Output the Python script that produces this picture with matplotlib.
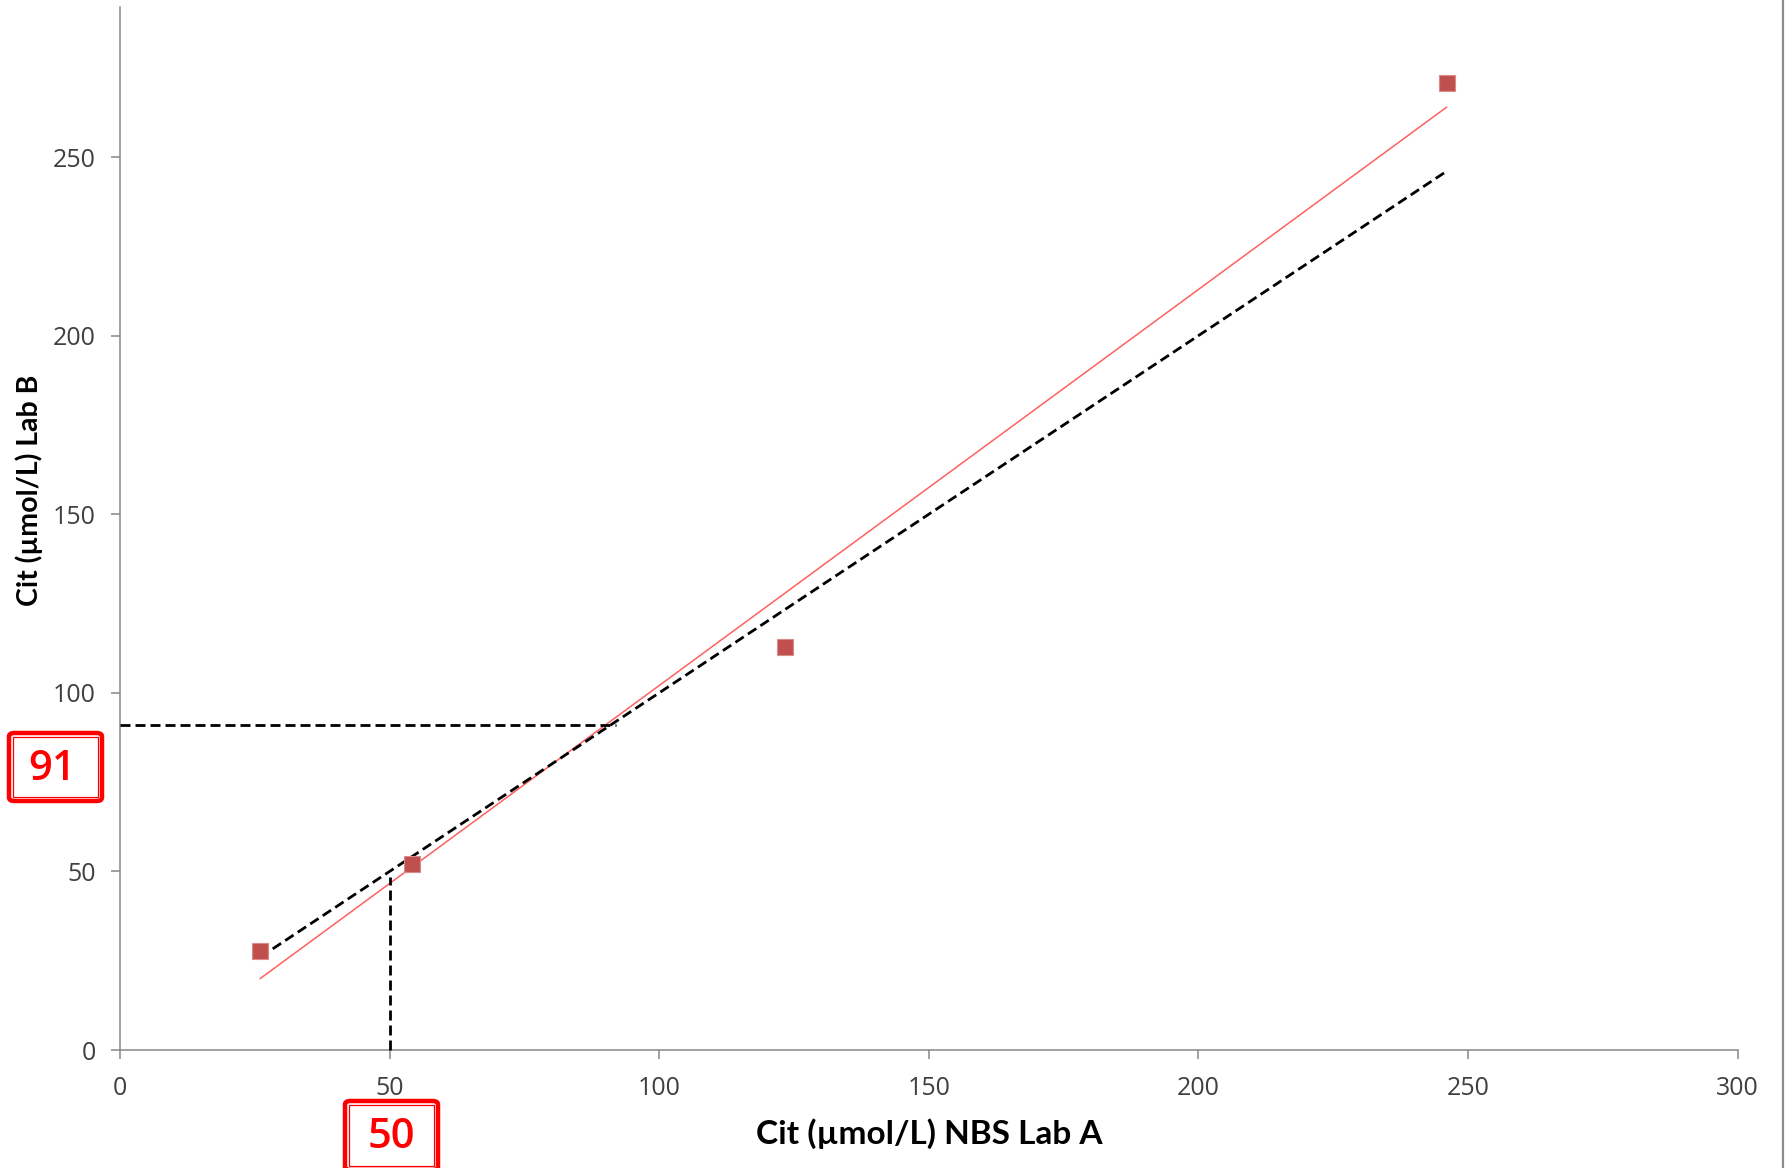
import numpy as np
import matplotlib.pyplot as plt
from matplotlib.lines import Line2D
from matplotlib.patches import FancyBboxPatch

# citrulline results for the same samples, measured in two labs
lab_a = [26.0, 54.2, 123.4, 246.0]
lab_b = [27.8, 52.1, 112.7, 270.6]

# read-off example: 50 in lab A corresponds to 91 in lab B
ref_a = 50
ref_b = 91
ref_b_line_end = 92.0
ref_a_line_top = 48.5

x_ticks = [0, 50, 100, 150, 200, 250, 300]
y_ticks = [0, 50, 100, 150, 200, 250]

W, H = 1787, 1168
fig = plt.figure(figsize=(W / 100, H / 100), dpi=100)
fig.patch.set_facecolor('white')


def fx(px):
    return px / W


def fy(py):
    return 1 - py / H


ax = fig.add_axes([fx(120), fy(1050), fx(1737.7) - fx(120), fy(7) - fy(1050)])

# trendline of lab B against lab A
slope, intercept = np.polyfit(lab_a, lab_b, 1)
xs = np.array([min(lab_a), max(lab_a)])
ax.plot(xs, slope * xs + intercept, color='#FF6060', lw=1.1, zorder=3)

# line of identity
ax.plot(xs, xs, color='black', lw=2.0, dashes=(3.6, 1.8), zorder=4)

# reference lines
ax.plot([0, ref_b_line_end], [ref_b, ref_b], color='black', lw=2.0,
        dashes=(3.6, 1.8), zorder=4, clip_on=False)
ax.plot([ref_a, ref_a], [0, ref_a_line_top], color='black', lw=2.0,
        dashes=(3.6, 1.8), zorder=4, clip_on=False)

ax.plot(lab_a, lab_b, ls='none', marker='s', markersize=11,
        markerfacecolor='#C0504D', markeredgecolor='#D98A8A', markeredgewidth=0.8,
        zorder=5)

ax.set_xlim(0, 300)
ax.set_ylim(0, 292)
ax.set_xticks(x_ticks)
ax.set_yticks(y_ticks)
ax.set_xticklabels([str(t) for t in x_ticks])
ax.set_yticklabels([str(t) for t in y_ticks])

for side in ['top', 'right']:
    ax.spines[side].set_visible(False)
for side in ['left', 'bottom']:
    ax.spines[side].set_color('#868686')
    ax.spines[side].set_linewidth(1.1)

ax.tick_params(axis='both', direction='out', length=6.5, width=1.1, color='#868686',
               labelsize=18, labelcolor='#404040')
ax.tick_params(axis='x', pad=12)
ax.tick_params(axis='y', pad=11)
for lbl in ax.get_xticklabels() + ax.get_yticklabels():
    lbl.set_family('Open Sans')

ax.set_xlabel('Cit (µmol/L) NBS Lab A', fontsize=24, fontweight='bold',
              family='Lato', color='black', va='center', ha='center')
ax.set_ylabel('Cit (µmol/L) Lab B', fontsize=20.5, fontweight='bold',
              family='Lato', color='black', va='center', ha='center')
ax.xaxis.set_label_coords(0.5, (1050 - 1134) / 1043)
ax.yaxis.set_label_coords((29 - 120) / 1617.7, (1050 - 490) / 1043)

# right border of the chart area
fig.add_artist(Line2D([fx(1783), fx(1783)], [0, 1], color='#8C8C8C', lw=1.6))


def value_box(x0, y0, x1, y1, text, tx, ty):
    outer = FancyBboxPatch((fx(x0 + 2), fy(y1 - 2)), fx(x1 - x0 - 4), fy(y0) - fy(y1 - 4),
                           boxstyle='round,pad=0,rounding_size=0.003',
                           transform=fig.transFigure, facecolor='white',
                           edgecolor='#FF0000', lw=3.2, zorder=10)
    fig.add_artist(outer)
    inner = FancyBboxPatch((fx(x0 + 6), fy(y1 - 6)), fx(x1 - x0 - 12), fy(y0 + 6) - fy(y1 - 6),
                           boxstyle='square,pad=0', transform=fig.transFigure,
                           facecolor='none', edgecolor='#FF0000', lw=0.9, zorder=11)
    fig.add_artist(inner)
    fig.text(fx(tx), fy(ty), text, color='#FF0000', fontsize=30, family='Open Sans',
             fontweight='semibold', ha='center', va='center_baseline', zorder=12)


value_box(7, 731, 104, 803, str(ref_b), 52, 764)
value_box(343, 1099, 440, 1172, str(ref_a), 391, 1132)

fig.savefig('out.png', dpi=100, facecolor='white')
